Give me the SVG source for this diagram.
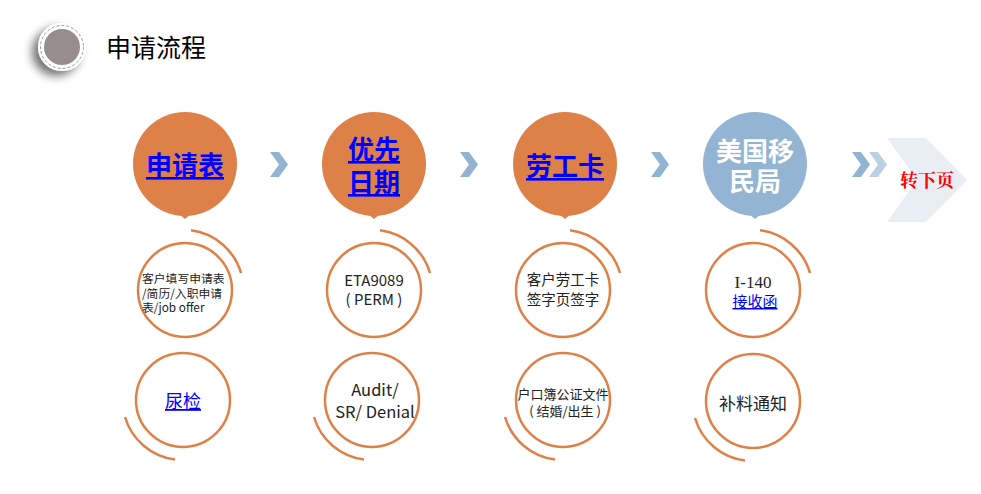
<svg xmlns="http://www.w3.org/2000/svg" width="981" height="494" viewBox="0 0 981 494">
<defs>
<filter id="sh" x="-80%" y="-80%" width="260%" height="260%">
<feGaussianBlur in="SourceAlpha" stdDeviation="5"/>
<feOffset dx="-6" dy="5" result="b"/>
<feComponentTransfer><feFuncA type="linear" slope="0.55"/></feComponentTransfer>
<feMerge><feMergeNode/><feMergeNode in="SourceGraphic"/></feMerge>
</filter>
</defs>
<style>
.cj{font-family:"Noto Sans CJK SC","Microsoft YaHei",sans-serif}
.big{font-size:26px;font-weight:bold;text-anchor:middle}
.lnk{fill:#0000FF;text-decoration:underline}
.ring{fill:none;stroke:#DE8148;stroke-width:2.5}
.oc{fill:#DE8148}
.bc{fill:#94B4D3}
.chev{fill:#93B3D3}
.t{fill:#222;text-anchor:middle}
</style>
<rect width="981" height="494" fill="#fff"/>
<g id="header">
<circle cx="62" cy="47" r="24" fill="#fff" filter="url(#sh)"/>
<circle cx="62" cy="47" r="21.5" fill="none" stroke="#999" stroke-width="1" stroke-dasharray="3 2"/>
<circle cx="62" cy="47" r="18" fill="#978D8D"/>
<text x="106" y="57" class="cj" font-size="25" fill="#000">申请流程</text>
</g>
<g id="connectors">
<polygon class="chev" points="270,152 279,152 288,164.5 279,177 270,177 279,164.5"/>
<polygon class="chev" points="460,152 469,152 478,164.5 469,177 460,177 469,164.5"/>
<polygon class="chev" points="651,152 660,152 669,164.5 660,177 651,177 660,164.5"/>
<polygon class="chev" points="852,152 861,152 870,164.5 861,177 852,177 861,164.5"/>
<polygon fill="#BCD0E5" points="869,152 878,152 887,164.5 878,177 869,177 878,164.5"/>
</g>
<g id="next">
<polygon fill="#E9EEF5" points="887,138 926,138 967,180 926,222 887,222 917,180"/>
<text x="927" y="187" font-family="'Noto Serif CJK SC','Noto Sans CJK SC',serif" font-size="18" font-weight="bold" fill="#FF0000" text-anchor="middle">转下页</text>
</g>
<g id="n1">
<circle class="oc" cx="185" cy="164" r="52"/>
<polygon class="oc" points="179,214 191,214 185,219"/>
<text x="185" y="175" class="cj big lnk">申请表</text>
</g>
<g id="n2">
<circle class="oc" cx="374" cy="164" r="52"/>
<polygon class="oc" points="368,214 380,214 374,219"/>
<text x="374" y="159" class="cj big lnk">优先</text>
<text x="374" y="192" class="cj big lnk">日期</text>
</g>
<g id="n3">
<circle class="oc" cx="565" cy="164" r="52"/>
<polygon class="oc" points="559,214 571,214 565,219"/>
<text x="565" y="176" class="cj big lnk">劳工卡</text>
</g>
<g id="n4">
<circle class="bc" cx="755" cy="164" r="52"/>
<polygon class="bc" points="749,214 761,214 755,219"/>
<text x="755" y="161" class="cj" font-size="26" font-weight="bold" text-anchor="middle" fill="#fff">美国移</text>
<text x="755" y="191" class="cj" font-size="26" font-weight="bold" text-anchor="middle" fill="#fff">民局</text>
</g>
<g id="m1">
<circle class="ring" cx="185" cy="290" r="47"/>
<path class="ring" d="M191,230.3 A60,60 0 0 1 241,273"/>
<text x="142" y="283" class="cj" font-size="11.8" fill="#222">客户填写申请表</text>
<text x="142" y="298" class="cj" font-size="11.8" fill="#222">/简历/入职申请</text>
<text x="142" y="312" class="cj" font-size="11.8" fill="#222">表/job offer</text>
</g>
<g id="m2">
<circle class="ring" cx="374" cy="290" r="47"/>
<path class="ring" d="M380,230.3 A60,60 0 0 1 430,273"/>
<text x="374" y="286" class="cj t" font-size="15">ETA9089</text>
<text x="374" y="305" class="cj t" font-size="15">( PERM )</text>
</g>
<g id="m3">
<circle class="ring" cx="563" cy="290" r="47"/>
<path class="ring" d="M570,230.3 A60,60 0 0 1 620,273"/>
<text x="563" y="285" class="cj t" font-size="14.5">客户劳工卡</text>
<text x="563" y="305" class="cj t" font-size="14.5">签字页签字</text>
</g>
<g id="m4">
<circle class="ring" cx="753" cy="290" r="47"/>
<path class="ring" d="M760,230.3 A60,60 0 0 1 810,273"/>
<text x="753" y="288" font-family="'Liberation Serif',serif" font-size="17" class="t">I-140</text>
<text x="755" y="307" class="cj lnk" font-size="15" text-anchor="middle">接收函</text>
</g>
<g id="b1">
<circle class="ring" cx="183" cy="400" r="47"/>
<path class="ring" d="M125,417 A60,60 0 0 0 175,459.5"/>
<text x="183" y="408" class="cj lnk" font-size="18" text-anchor="middle">尿检</text>
</g>
<g id="b2">
<circle class="ring" cx="372" cy="400" r="47"/>
<path class="ring" d="M314,417 A60,60 0 0 0 364,459.5"/>
<text x="375" y="396" class="cj t" font-size="16.5">Audit/</text>
<text x="375" y="418" class="cj t" font-size="16.5">SR/ Denial</text>
</g>
<g id="b3">
<circle class="ring" cx="563" cy="400" r="47"/>
<path class="ring" d="M505,417 A60,60 0 0 0 555,459.5"/>
<text x="563" y="399" class="cj t" font-size="13">户口簿公证文件</text>
<text x="565" y="416" class="cj t" font-size="13">( 结婚/出生 )</text>
</g>
<g id="b4">
<circle class="ring" cx="753" cy="401" r="47"/>
<path class="ring" d="M695,418 A60,60 0 0 0 745,460.5"/>
<text x="753" y="410" class="cj t" font-size="17">补料通知</text>
</g>
</svg>
